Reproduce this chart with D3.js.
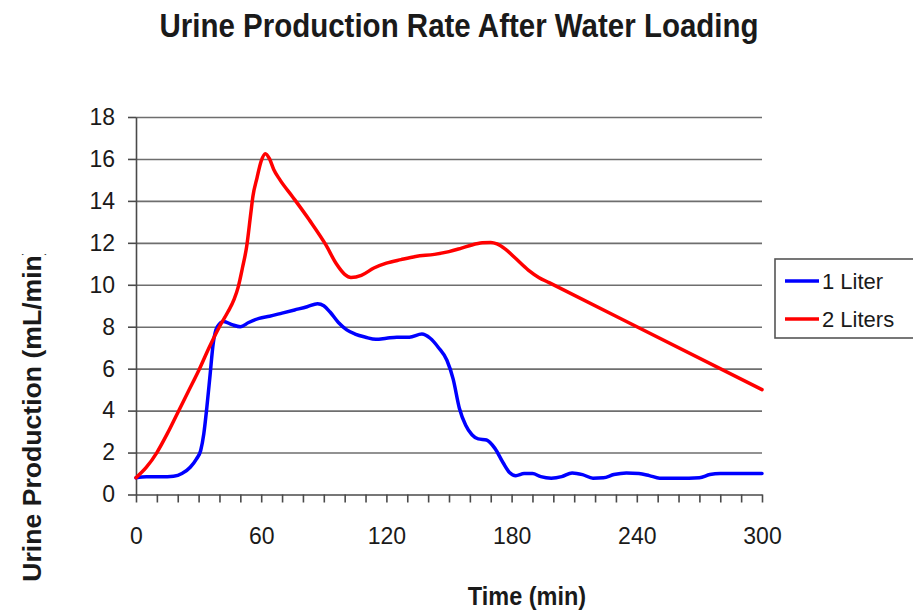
<!DOCTYPE html>
<meta charset='utf-8'>
<head>
    <title>Urine Production Rate</title>
    <script src='https://cdn.jsdelivr.net/npm/d3@7/dist/d3.min.js'></script>
</head>

<style>
    body { margin: 0; background: white; }
    text { font-family: Arial, 'Liberation Sans', sans-serif; fill: #1a1a1a; }
    .grid line { stroke: #6e6e6e; stroke-width: 1.6px; }
    .grid path { display: none; }
    .axis path, .axis line { stroke: #4a4a4a; stroke-width: 1.6px; }
    .axis text { font-size: 23px; fill: #1a1a1a; }
    .series { fill: none; stroke-width: 3.5px; stroke-linejoin: round; stroke-linecap: round; }
</style>

<svg></svg>

<script>
    var vWidth = 913;
    var vHeight = 610;

    // Data (time in min, rate in mL/min)
    var oneLiterTime = [0, 5, 10, 15, 18, 22, 26, 29, 31, 32.5, 34, 35.5, 37, 39, 42, 46, 50, 54, 59, 64, 70, 76, 82, 87, 90, 93, 97, 101, 105, 110, 115, 120, 125, 131, 137, 141, 145, 149, 152, 155, 158, 161, 164, 168, 172, 176, 179, 182, 186, 190, 194, 199, 204, 209, 214, 219, 224, 229, 235, 241, 246, 251, 258, 265, 270, 275, 280, 290, 300];
    var oneLiterRate = [0.8, 0.85, 0.85, 0.85, 0.87, 1.0, 1.3, 1.7, 2.1, 2.9, 4.2, 5.7, 7.2, 8.0, 8.25, 8.1, 8.0, 8.2, 8.4, 8.5, 8.65, 8.8, 8.95, 9.1, 9.0, 8.7, 8.2, 7.85, 7.65, 7.5, 7.4, 7.45, 7.5, 7.5, 7.65, 7.45, 7.0, 6.4, 5.5, 4.1, 3.3, 2.85, 2.65, 2.6, 2.2, 1.5, 1.05, 0.9, 1.0, 1.0, 0.85, 0.78, 0.85, 1.03, 0.95, 0.78, 0.8, 0.95, 1.03, 1.0, 0.9, 0.78, 0.78, 0.78, 0.8, 0.95, 1.0, 1.0, 1.0];

    var twoLiterTime = [0, 5, 10, 15, 20, 25, 30, 35, 40, 44, 47, 49, 51, 53, 55, 56, 58, 60, 62, 64, 66, 69, 75, 83, 91, 96, 100, 103, 108, 114, 120, 127, 134, 143, 150, 156, 161, 166, 170, 173, 177, 182, 188, 193, 198, 300];
    var twoLiterRate = [0.8, 1.3, 2.0, 2.9, 3.9, 4.9, 5.9, 7.0, 8.0, 8.7, 9.3, 9.9, 10.8, 11.8, 13.4, 14.2, 15.1, 15.9, 16.25, 16.0, 15.5, 15.0, 14.2, 13.1, 11.9, 11.0, 10.5, 10.35, 10.45, 10.8, 11.03, 11.2, 11.35, 11.45, 11.58, 11.75, 11.9, 12.0, 12.02, 11.95, 11.7, 11.25, 10.7, 10.35, 10.1, 5.0];

    var seriesNames = ['1 Liter', '2 Liters'];
    var seriesColors = ['#0000ff', '#ff0000'];
    var xTicks = [0, 60, 120, 180, 240, 300];
    var yTicks = [0, 2, 4, 6, 8, 10, 12, 14, 16, 18];

    var svg = d3.select('svg').attr('width', vWidth).attr('height', vHeight);

    // Scales
    var x = d3.scaleLinear().domain([0, 300]).range([136, 762]);
    var y = d3.scaleLinear().domain([0, 18]).range([494.5, 117]);

    // Gridlines
    svg.append('g').attr('class', 'grid')
        .attr('transform', 'translate(136,0)')
        .call(d3.axisLeft(y).tickValues(yTicks.slice(1)).tickSize(-(762 - 136)).tickFormat(''));

    // Axes
    svg.append('g').attr('class', 'axis')
        .attr('transform', 'translate(0,494.5)')
        .call(d3.axisBottom(x).tickValues(d3.range(0, 301, 10)).tickSizeInner(8).tickSizeOuter(0).tickPadding(25)
            .tickFormat(function (d) { return xTicks.indexOf(d) >= 0 ? d : ''; }));

    svg.append('g').attr('class', 'axis')
        .attr('transform', 'translate(136,0)')
        .call(d3.axisLeft(y).tickValues(yTicks).tickSizeInner(8).tickSizeOuter(0).tickPadding(13));

    // Lines
    var line = d3.line()
        .x(function (d) { return x(d[0]); })
        .y(function (d) { return y(d[1]); })
        .curve(d3.curveMonotoneX);

    var series = [d3.zip(oneLiterTime, oneLiterRate), d3.zip(twoLiterTime, twoLiterRate)];

    svg.selectAll('path.series').data(series).enter().append('path')
        .attr('class', 'series')
        .attr('stroke', function (d, i) { return seriesColors[i]; })
        .attr('d', line);

    // Titles
    svg.append('text')
        .attr('transform', 'translate(459,37) scale(1,1.1)')
        .attr('text-anchor', 'middle')
        .style('font-size', '29.5px').style('font-weight', 'bold')
        .text('Urine Production Rate After Water Loading');

    svg.append('text')
        .attr('transform', 'translate(527,605) scale(1,1.1)')
        .attr('text-anchor', 'middle')
        .style('font-size', '23.5px').style('font-weight', 'bold')
        .text('Time (min)');

    // y title is cut at the top in the original
    svg.append('clipPath').attr('id', 'ytitle-clip')
        .append('rect').attr('x', 0).attr('y', 254).attr('width', 80).attr('height', 356);

    svg.append('g').attr('clip-path', 'url(#ytitle-clip)')
        .append('text')
        .attr('transform', 'translate(41,414) rotate(-90)')
        .attr('text-anchor', 'middle')
        .style('font-size', '26.6px').style('font-weight', 'bold')
        .text('Urine Production (mL/min)');

    // Legend
    var legend = svg.append('g');
    legend.append('rect')
        .attr('x', 775).attr('y', 259).attr('width', 160).attr('height', 79)
        .attr('fill', 'white').attr('stroke', '#555').attr('stroke-width', 1.6);

    var items = legend.selectAll('g.item').data(seriesNames).enter().append('g')
        .attr('transform', function (d, i) { return 'translate(0,' + (281 + i * 38) + ')'; });
    items.append('line')
        .attr('x1', 785).attr('x2', 819)
        .attr('stroke', function (d, i) { return seriesColors[i]; })
        .attr('stroke-width', 3.5);
    items.append('text')
        .attr('x', 822).attr('dy', '0.35em')
        .style('font-size', '22px')
        .text(function (d) { return d; });
</script>
